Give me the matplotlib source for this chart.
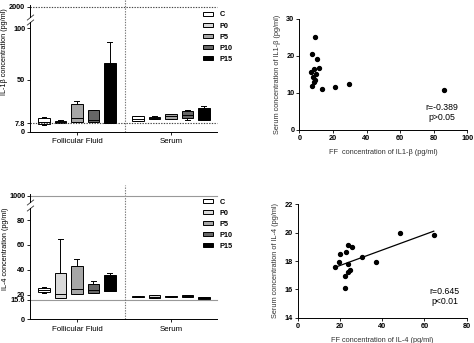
import numpy as np
import matplotlib.pyplot as plt
from matplotlib.patches import Patch

plt.rcParams['font.family'] = ['Liberation Sans', 'DejaVu Sans']
plt.rcParams['axes.linewidth'] = 0.7

groups = ['C', 'P0', 'P5', 'P10', 'P15']
group_colors = ['white', '#d9d9d9', '#a6a6a6', '#666666', 'black']
sites = ['Follicular Fluid', 'Serum']

# box stats per group: (whislo, q1, med, q3, whishi)
il1b_ff = [(6.5, 7.2, 9.2, 12.8, 13.8),
           (8.0, 8.0, 9.2, 10.5, 11.0),
           (8.9, 8.9, 13.4, 26.4, 29.6),
           (8.9, 8.9, 11.2, 20.9, 21.2),
           (8.5, 8.5, 8.5, 66.8, 86.6)]
il1b_serum = [(10.2, 10.5, 12.0, 15.0, 15.5),
              (12.1, 12.1, 13.0, 14.4, 14.6),
              (12.1, 12.1, 15.0, 16.7, 16.9),
              (11.5, 12.8, 16.0, 20.2, 20.6),
              (11.2, 11.2, 12.0, 23.1, 25.0)]
il4_ff = [(21.5, 21.8, 23.4, 25.5, 26.0),
          (17.0, 17.4, 20.4, 37.6, 64.5),
          (20.2, 20.2, 24.2, 43.2, 48.6),
          (21.0, 21.5, 24.0, 28.2, 30.9),
          (22.8, 22.8, 22.8, 35.7, 37.6)]
il4_serum = [(17.8, 17.8, 18.2, 18.6, 18.6),
             (17.0, 17.0, 18.0, 19.6, 19.6),
             (18.2, 18.2, 18.5, 18.9, 18.9),
             (17.8, 17.8, 18.6, 19.4, 19.4),
             (16.4, 16.4, 17.3, 18.2, 18.2)]

# scatter data: FF vs serum
il1b_x = [9.3, 7.6, 10.3, 11.9, 8.6, 6.8, 10.1, 8.3, 9.3, 8.9, 7.6, 13.5, 21.1, 29.4, 85.9]
il1b_y = [25.0, 20.4, 19.0, 16.7, 16.4, 15.5, 15.0, 14.2, 13.4, 12.9, 11.7, 10.9, 11.5, 12.4, 10.8]
il4_x = [17.7, 20.0, 19.7, 22.9, 24.0, 25.9, 23.7, 24.8, 24.0, 22.6, 22.4, 30.6, 37.1, 48.5, 64.4]
il4_y = [17.6, 18.46, 17.9, 18.6, 19.14, 18.98, 17.8, 17.4, 17.24, 16.94, 16.1, 18.27, 17.92, 20.0, 19.86]

ff_pos = [1, 2, 3, 4, 5]
serum_pos = [6.7, 7.7, 8.7, 9.7, 10.7]

fig = plt.figure(figsize=(4.74, 3.43), dpi=100)
W, H = 474.0, 343.0


def rect(x0, x1, ytop, ybot):
    return [x0 / W, 1 - ybot / H, (x1 - x0) / W, (ybot - ytop) / H]


def style_ticks(ax):
    ax.tick_params(direction='out', length=2, width=0.6, labelsize=5.3, pad=1.5)
    for lab in ax.get_yticklabels() + ax.get_xticklabels():
        lab.set_fontweight('bold')


def box_panel(low_rect, up_rect, ff, serum, low_ylim, low_ticks, up_ylim, up_tick,
              ref_level, line_kw, ylabel, ylabel_xy, legend_top):
    ax = fig.add_axes(low_rect)
    ax_up = fig.add_axes(up_rect)
    stats = []
    for s in ff + serum:
        stats.append(dict(whislo=s[0], q1=s[1], med=s[2], q3=s[3], whishi=s[4], fliers=[]))
    bp = ax.bxp(stats, positions=ff_pos + serum_pos, widths=0.7, capwidths=0.3,
                patch_artist=True, showfliers=False,
                boxprops=dict(linewidth=0.7, edgecolor='black'),
                medianprops=dict(color='black', linewidth=0.7),
                whiskerprops=dict(linewidth=0.7), capprops=dict(linewidth=0.7))
    for patch, c in zip(bp['boxes'], group_colors * 2):
        patch.set_facecolor(c)

    ax.set_xlim(0.15, 11.5)
    ax.set_ylim(*low_ylim)
    ax.set_yticks(low_ticks)
    ax.set_yticklabels([('%g' % t) for t in low_ticks])
    ax.set_xticks([ff_pos[2], serum_pos[2]])
    ax.set_xticklabels(sites)
    for sp in ['top', 'right']:
        ax.spines[sp].set_visible(False)
    style_ticks(ax)
    for lab in ax.get_xticklabels():
        lab.set_fontweight('normal')
        lab.set_fontsize(5.7)
    ax.tick_params(axis='x', pad=3)

    ax.axhline(ref_level, **line_kw)
    ax.axvline(5.9, ymin=0, ymax=1.2, clip_on=False, color='#777777',
               linestyle=(0, (1.2, 1.2)), linewidth=0.8)

    ax_up.set_xlim(0.15, 11.5)
    ax_up.set_ylim(*up_ylim)
    ax_up.set_yticks([up_tick])
    ax_up.set_xticks([])
    for sp in ['top', 'right', 'bottom']:
        ax_up.spines[sp].set_visible(False)
    style_ticks(ax_up)
    ax_up.axhline(up_tick, **line_kw)
    ax_up.patch.set_visible(False)

    # break marks on the y axis
    mk = dict(marker=[(-1, -0.8), (1, 0.8)], markersize=5, linestyle='none',
              color='#333333', mec='#333333', mew=0.6, clip_on=False)
    ax_up.plot([0], [0], transform=ax_up.transAxes, **mk)
    ax.plot([0], [1], transform=ax.transAxes, **mk)

    fig.text(ylabel_xy[0], ylabel_xy[1], ylabel, rotation=90, fontsize=5.2,
             ha='center', va='center')

    handles = [Patch(facecolor=c, edgecolor='black', linewidth=0.7) for c in group_colors]
    ax.legend(handles, groups, loc='upper left', frameon=False,
              bbox_to_anchor=(203 / W, legend_top), bbox_transform=fig.transFigure,
              borderaxespad=0, borderpad=0, handlelength=1.4, handleheight=0.6,
              handletextpad=0.9, labelspacing=0.55,
              prop=dict(size=5.3, weight='bold'))
    return ax


dotted = dict(color='#444444', linestyle=(0, (1.2, 1.2)), linewidth=0.8, clip_on=False)
solid = dict(color='#999999', linestyle='-', linewidth=0.8, clip_on=False)

box_panel(rect(30, 217, 22, 131.5), rect(30, 217, 5, 17), il1b_ff, il1b_serum,
          (0, 106.3), [0, 7.8, 50, 100], (1990, 2002), 2000,
          7.8, dotted, 'IL-1β concentration (pg/ml)', (4.5 / W, 1 - 52 / H), 1 - 11.5 / H)

box_panel(rect(30, 217, 207.7, 319.3), rect(30, 217, 194, 202), il4_ff, il4_serum,
          (0, 90), [0, 15.6, 20, 40, 60, 80], (994, 1002), 1000,
          15.6, solid, 'IL-4 concentration (pg/ml)', (5.5 / W, 1 - 249 / H), 1 - 198.5 / H)


def scatter_panel(r, xs, ys, xlim, ylim, xticks, yticks, xlabel, ylabel, note, note_xy,
                  fit=False):
    ax = fig.add_axes(r)
    ax.scatter(xs, ys, s=8, color='black', zorder=3, clip_on=False)
    if fit:
        k, b = np.polyfit(xs, ys, 1)
        xx = np.array([min(xs), max(xs)])
        ax.plot(xx, k * xx + b, color='black', linewidth=0.9)
    ax.set_xlim(*xlim)
    ax.set_ylim(*ylim)
    ax.set_xticks(xticks)
    ax.set_yticks(yticks)
    for sp in ['top', 'right']:
        ax.spines[sp].set_visible(False)
    style_ticks(ax)
    ax.set_xlabel(xlabel, fontsize=5.3, color='#333333', labelpad=5)
    ax.set_ylabel(ylabel, fontsize=5.3, color='#333333', labelpad=4)
    ax.text(note_xy[0], note_xy[1], note, transform=ax.transData, fontsize=6.3,
            ha='center', va='center', linespacing=1.1)
    return ax


scatter_panel(rect(299.3, 467.3, 18.7, 129.7), il1b_x, il1b_y, (0, 100), (0, 30),
              [0, 20, 40, 60, 80, 100], [0, 10, 20, 30],
              'FF  concentration of IL1-β (pg/ml)', 'Serum concentration of IL1-β (pg/ml)',
              'r=-0.389\np>0.05', (85, 4.7))

scatter_panel(rect(297.7, 466.7, 204.3, 317.7), il4_x, il4_y, (0, 80), (14, 22),
              [0, 20, 40, 60, 80], [14, 16, 18, 20, 22],
              'FF concentration of IL-4 (pg/ml)', 'Serum concentration of IL-4 (pg/ml)',
              'r=0.645\np<0.01', (69.5, 15.5), fit=True)

fig.savefig('out.png', dpi=100)
